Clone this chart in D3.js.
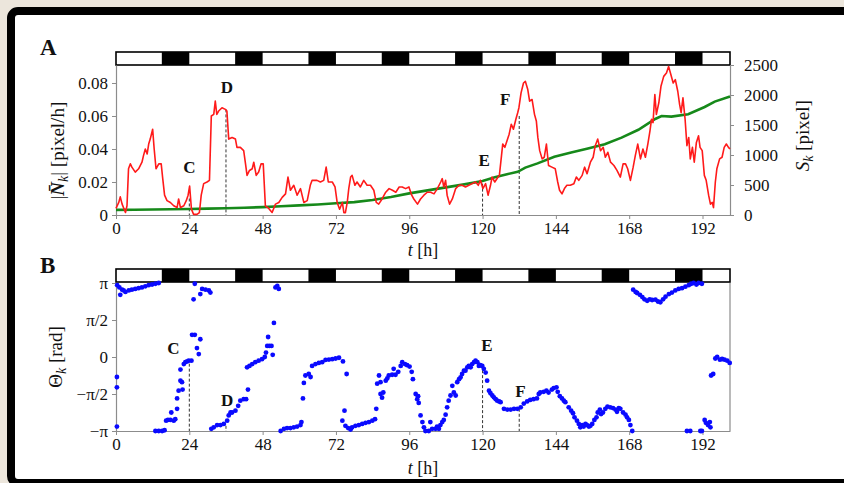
<!DOCTYPE html>
<html lang="en">
<head>
<meta charset="UTF-8">
<title>Speed and direction of growth</title>
<script src="https://d3js.org/d3.v7.min.js"></script>
<style>
  body { margin: 0; background: #ece6dc; }
  svg { display: block; }
  text { font-family: "Liberation Serif", "Times New Roman", serif; fill: #111; }
</style>
</head>
<body>
<svg id="chart" width="844" height="483"></svg>
<script>
// ---- data ----
// |N_k| [pixel/h] over time t [h]
const normRate = [[0,0.004],[0.9,0.0076],[1.4,0.011],[2,0.0066],[3.1,0.0015],[3.6,0.0056],[4.1,0.028],[4.7,0.031],[5.2,0.029],[6.3,0.026],[7.4,0.028],[8.5,0.032],[9,0.036],[9.6,0.040],[10.2,0.037],[10.7,0.043],[11.2,0.046],[12,0.052],[12.5,0.040],[13.1,0.028],[14,0.031],[14.8,0.031],[15.3,0.022],[15.9,0.012],[16.7,0.0087],[17.8,0.0076],[18.9,0.0056],[20,0.0045],[20.5,0.0097],[21.1,0.0045],[22.2,0.0056],[23,0.0087],[23.6,0.012],[24.1,0.0175],[24.7,0.0035],[25.4,0.0004],[26.5,0.0004],[27.3,0.0014],[27.9,0.012],[28.7,0.019],[29.8,0.020],[30.6,0.021],[31.2,0.060],[32,0.061],[32.5,0.069],[33,0.061],[33.6,0.063],[34.7,0.065],[35.8,0.064],[36.3,0.063],[36.9,0.046],[38,0.047],[39.1,0.046],[39.6,0.041],[40.7,0.041],[41.8,0.039],[42.4,0.031],[42.9,0.024],[43.7,0.027],[44.6,0.028],[45.1,0.032],[45.9,0.024],[46.7,0.026],[47.5,0.031],[48.2,0.031],[48.9,0.0056],[50,0.004],[51.1,0.0015],[52.2,0.0066],[53.3,0.0076],[54.4,0.0107],[55.5,0.0128],[56.3,0.023],[57.1,0.015],[58.2,0.018],[59.3,0.012],[60.4,0.016],[61.5,0.0076],[62.6,0.0087],[63.6,0.018],[64.2,0.021],[65.8,0.021],[66.9,0.020],[68,0.021],[68.8,0.029],[69.5,0.020],[70.8,0.020],[71.7,0.017],[72.4,0.0076],[73.2,0.0035],[74.1,0.0076],[74.6,0.0014],[75.1,0.0014],[75.7,0.0076],[76.2,0.016],[76.8,0.023],[77.3,0.024],[78.2,0.018],[78.9,0.020],[80,0.017],[81.1,0.021],[82.2,0.018],[83.3,0.018],[84.4,0.015],[85.2,0.0076],[86,0.0066],[87.1,0.0097],[88.3,0.0138],[89.4,0.016],[90.5,0.015],[91.6,0.0138],[92.7,0.017],[93.7,0.017],[94.8,0.016],[95.9,0.017],[96.8,0.012],[97.5,0.0097],[98.7,0.0066],[99.7,0.0097],[100.8,0.012],[101.9,0.0138],[103,0.0138],[104.1,0.0128],[105.2,0.016],[106.3,0.020],[106.8,0.022],[107.3,0.017],[107.9,0.021],[108.4,0.012],[109.2,0.0066],[110.1,0.0097],[111.2,0.016],[112.3,0.018],[113.3,0.018],[114.4,0.017],[115.5,0.018],[116.6,0.019],[117.7,0.020],[118.6,0.018],[119.3,0.021],[120.1,0.016],[121,0.019],[121.8,0.012],[122.6,0.018],[123.1,0.023],[124,0.020],[124.7,0.022],[125.5,0.024],[126.2,0.036],[126.6,0.043],[127.3,0.041],[128,0.045],[128.7,0.049],[129.4,0.055],[130.1,0.052],[130.9,0.058],[131.5,0.062],[131.9,0.065],[132.6,0.074],[133.4,0.080],[134,0.081],[134.8,0.076],[135.4,0.069],[136.2,0.070],[137,0.061],[137.6,0.057],[138.1,0.047],[138.7,0.039],[139.5,0.034],[140.2,0.035],[140.9,0.043],[141.6,0.030],[142.7,0.029],[143.8,0.028],[144.6,0.020],[145.2,0.015],[146,0.0128],[146.8,0.016],[147.6,0.018],[148.7,0.018],[149.9,0.019],[150.7,0.023],[151.5,0.021],[152.6,0.024],[153.4,0.029],[154.2,0.025],[155.3,0.032],[156.2,0.035],[156.9,0.042],[157.7,0.046],[158.6,0.039],[159.5,0.041],[160.2,0.035],[161,0.038],[161.9,0.032],[163,0.030],[164,0.027],[165.1,0.023],[166,0.031],[166.8,0.031],[167.5,0.028],[168.4,0.021],[169.3,0.029],[170,0.036],[170.8,0.043],[171.7,0.034],[172.5,0.040],[173.3,0.035],[174.1,0.043],[174.8,0.051],[175.3,0.058],[175.8,0.056],[176.4,0.073],[176.9,0.061],[177.7,0.068],[178.4,0.078],[179.3,0.084],[180.2,0.086],[180.9,0.090],[181.5,0.086],[182.4,0.080],[183.1,0.082],[183.9,0.075],[184.5,0.067],[185,0.062],[185.6,0.071],[186.3,0.058],[186.9,0.042],[187.5,0.047],[188,0.034],[188.7,0.041],[189.3,0.032],[190,0.044],[190.7,0.048],[191.2,0.041],[191.9,0.039],[192.6,0.024],[193.2,0.021],[194,0.012],[194.6,0.0066],[195.2,0.0076],[195.6,0.0045],[196.2,0.020],[196.7,0.028],[197.6,0.034],[198.4,0.035],[199.1,0.041],[199.8,0.043],[200.5,0.041],[201,0.040]];

// S_k [pixel]
const areaSk = [[0,85],[6,88],[12,92],[18,96],[24,100],[30,106],[36,112],[42,120],[48,132],[54,145],[60,160],[66,175],[72,195],[78,215],[84,250],[90,300],[96,360],[102,410],[108,460],[114,510],[120,565],[124,630],[128,680],[131.5,720],[134,790],[138,860],[143.5,970],[149,1040],[154.5,1110],[160,1180],[165.5,1290],[171,1420],[176.5,1600],[178.6,1650],[181.8,1640],[187.3,1680],[192.7,1800],[196,1890],[201,1975]];

// Theta_k in units of pi
const thetaPi = [[0.3,-0.27],[0.3,-0.41],[0.3,-0.94],[0.4,0.97],[1.1,0.94],[1.4,0.84],[2.0,0.91],[2.5,0.90],[3.1,0.88],[4.2,0.90],[5.2,0.91],[6.3,0.92],[7.4,0.93],[8.5,0.94],[9.6,0.955],[10.7,0.97],[11.8,0.98],[12.9,0.99],[14.0,1.0],
[12.9,-1.0],[14.0,-1.0],[15.1,-1.0],[15.9,-0.99],
[16.4,-0.86],[17.0,-0.85],[17.8,-0.85],[18.9,-0.86],[19.4,-0.84],[18.1,-0.75],[20.0,-0.70],[20.0,-0.56],[20.5,-0.455],[21.1,-0.32],[21.1,-0.17],[21.6,-0.34],[21.8,-0.44],
[22.2,-0.095],[22.7,-0.07],[23.3,-0.06],[23.8,-0.05],[24.7,-0.05],
[24.9,0.30],[25.8,0.30],[26.5,0.12],[27.1,0.04],[27.6,0.24],[25.4,0.78],[25.8,0.99],
[27.6,0.85],[28.2,0.92],[29.3,0.91],[30.4,0.90],[30.9,0.87],
[31.2,-0.97],[32.0,-0.95],[33.1,-0.92],[34.2,-0.92],[35.3,-0.905],[36.4,-0.86],[36.9,-0.79],[37.5,-0.75],[38.0,-0.75],[39.1,-0.725],[40.0,-0.66],[40.7,-0.59],[41.8,-0.57],[42.6,-0.57],[43.2,-0.44],
[42.9,-0.14],[43.7,-0.12],[44.6,-0.095],[45.6,-0.07],[46.7,-0.05],[47.8,-0.03],[48.7,0],[49.1,0.06],[49.5,0.15],[49.8,0.27],[50.2,0.15],[50.9,0.15],[51.3,0.03],
[51.7,0.46],[52.2,0.94],[52.8,0.96],[53.3,0.92],
[53.9,-1.0],[55.0,-0.97],[56.0,-0.96],[57.1,-0.96],[58.2,-0.95],[59.3,-0.94],[60.4,-0.92],[60.7,-0.88],
[61.2,-0.56],[61.5,-0.35],[62.0,-0.25],[63.1,-0.23],[63.7,-0.27],
[64.2,-0.12],[65.3,-0.095],[66.4,-0.08],[67.5,-0.07],
[68.6,-0.04],[69.7,-0.035],[70.8,-0.03],[71.9,-0.02],[73.0,-0.01],[74.3,-0.06],
[75.5,-0.23],[74.8,-0.725],[74.1,-0.86],
[75.1,-0.93],[76.0,-0.96],[76.8,-0.98],[77.3,-0.95],[78.4,-0.93],[79.5,-0.92],[80.6,-0.905],[81.7,-0.89],[82.8,-0.88],[83.9,-0.86],[84.8,-0.84],[85.2,-0.70],
[85.5,-0.36],[86.1,-0.25],[86.6,-0.50],[87.1,-0.55],[87.5,-0.48],[86.6,-0.34],
[88.3,-0.32],[88.8,-0.29],[89.3,-0.25],[90.4,-0.24],[90.9,-0.16],[91.5,-0.24],[92.4,-0.20],[93.2,-0.12],[93.7,-0.07],[94.6,-0.095],[95.3,-0.11],[96.1,-0.13],[96.8,-0.20],[97.2,-0.30],
[98.1,-0.50],[98.6,-0.57],[98.9,-0.53],[99.1,-0.62],
[99.7,-0.79],[100.3,-0.88],[100.8,-0.95],[101.3,-1.0],[102.4,-1.0],[102.9,-0.88],[103.5,-0.97],[104.6,-0.97],[105.1,-0.94],[105.7,-0.97],[106.2,-0.92],[106.8,-0.88],[107.3,-0.85],[107.9,-0.78],[108.4,-0.68],[108.9,-0.59],[109.5,-0.52],[110.1,-0.39],[110.6,-0.48],[111.2,-0.52],[111.7,-0.34],[112.3,-0.30],[112.8,-0.275],[113.3,-0.23],[113.9,-0.185],[114.4,-0.185],[115.0,-0.14],[115.5,-0.12],[116.1,-0.14],[116.6,-0.095],[117.2,-0.07],[117.7,-0.05],[118.3,-0.07],[118.8,-0.12],[119.3,-0.11],[119.9,-0.12],[120.4,-0.16],[121.0,-0.21],[121.5,-0.32],[122.1,-0.455],[122.6,-0.49],[123.2,-0.52],[123.7,-0.545],[124.3,-0.57],[124.8,-0.59],[125.4,-0.60],[125.9,-0.61],[127.0,-0.70],[128.1,-0.71],[129.2,-0.71],[130.3,-0.70],[131.4,-0.70],[132.5,-0.68],[133.5,-0.63],[134.6,-0.60],
[135.6,-0.58],[136.7,-0.57],[137.8,-0.56],[138.4,-0.50],[138.9,-0.48],[140.0,-0.47],[140.9,-0.455],[141.6,-0.48],[142.7,-0.44],[143.3,-0.42],[144.2,-0.41],[144.6,-0.47],[145.3,-0.53],[146.0,-0.56],[146.6,-0.59],[147.1,-0.61],[148.2,-0.68],[149.0,-0.725],[149.6,-0.76],[150.1,-0.815],[150.9,-0.86],[151.5,-0.905],[152.0,-0.95],[152.6,-0.92],[153.1,-0.94],[153.7,-0.905],[154.2,-0.92],[154.8,-0.94],[155.3,-0.93],[155.9,-0.905],[156.6,-0.85],[157.3,-0.815],[157.7,-0.75],[158.4,-0.71],[158.8,-0.77],[159.4,-0.75],[160.2,-0.70],[160.9,-0.67],[161.8,-0.68],[162.7,-0.69],[163.5,-0.71],[164.0,-0.74],[164.6,-0.69],[165.1,-0.70],[166.0,-0.75],[166.8,-0.78],[167.3,-0.815],[167.9,-0.85],[168.4,-0.92],[169.0,-1.0],
[169.3,0.91],[170.1,0.88],[170.6,0.865],[171.5,0.84],[172.3,0.81],[173.0,0.78],[173.9,0.76],[174.7,0.78],[175.5,0.77],[176.6,0.775],[177.4,0.75],[178.2,0.74],[179.1,0.78],[179.9,0.815],[181.0,0.85],[182.0,0.87],[183.1,0.90],[184.2,0.92],[185.3,0.93],[186.4,0.95],[187.5,0.97],[188.3,0.99],[189.1,1.0],[190.0,0.98],[190.7,1.0],[191.8,0.99],
[186.9,-1.0],[188.0,-1.0],[191.3,-1.0],[191.8,-1.0],
[192.7,-0.85],[193.1,-0.89],[193.8,-0.92],[194.4,-0.88],[194.6,-0.95],
[194.8,-0.25],[195.5,-0.23],
[196.2,-0.02],[196.8,0],[197.7,-0.036],[198.4,-0.027],[199.2,-0.036],[200.1,-0.05],[200.9,-0.08]];

// light/dark bar (dark from .. to .. hours)
const darkOn  = [15, 39, 63, 87, 111, 135, 159, 183];
const darkOff = [24, 48, 72, 96, 120, 144, 168, 192];

const timeTicks = [0, 24, 48, 72, 96, 120, 144, 168, 192];
const rateTicks = [0, 0.02, 0.04, 0.06, 0.08];
const rateTickLabels = ["0", "0.02", "0.04", "0.06", "0.08"];
const skTicks = [0, 500, 1000, 1500, 2000, 2500];
const thetaTicks = [-1, -0.5, 0, 0.5, 1];
const thetaTickLabels = ["\u2212\u03c0", "\u2212\u03c0/2", "0", "\u03c0/2", "\u03c0"];

// marked time points C..F
const markNames = ["C", "D", "E", "F"];
const markTimes = [24, 36, 120, 132];
const markRate = [0.010, 0.064, 0.019, 0.060];
const markTheta = [-0.09, -0.93, -0.11, -0.70];
const markRateLabel = [[24, 0.0285], [36.3, 0.077], [120.5, 0.033], [127.4, 0.0700]];
const markThetaLabel = [[18.8, 0.12], [36.4, -0.59], [121.4, 0.16], [132.4, -0.46]];

// ---- layout ----
const svg = d3.select("#chart");
const W = 844, H = 483;
const spine = "#8c8c8c";

svg.append("rect").attr("width", W).attr("height", H).attr("fill", "#ece6dc");
svg.append("rect")
    .attr("x", 11).attr("y", 11).attr("width", 860).attr("height", 472)
    .attr("rx", 7)
    .attr("fill", "#fff").attr("stroke", "#000").attr("stroke-width", 8);

const x = d3.scaleLinear().domain([0, 201]).range([116, 730]);
const yRate = d3.scaleLinear().domain([0, 0.0909]).range([215, 65]);
const ySk = d3.scaleLinear().domain([0, 2500]).range([215, 65]);
const yTheta = d3.scaleLinear().domain([-1, 1]).range([431, 283]);

function styleAxis(g) {
    g.selectAll("path").attr("stroke", spine).attr("stroke-width", 1.2);
    g.selectAll("line").attr("stroke", spine);
    g.selectAll("text")
        .style("font-family", '"Liberation Serif", "Times New Roman", serif')
        .attr("font-size", 17).attr("fill", "#111");
}

function dayBar(yTop) {
    const bar = svg.append("g");
    bar.append("rect")
        .attr("x", x(0)).attr("y", yTop)
        .attr("width", x(201) - x(0)).attr("height", 13)
        .attr("fill", "#fff").attr("stroke", "#000").attr("stroke-width", 1.6);
    bar.selectAll("rect.dark").data(darkOn).join("rect")
        .attr("class", "dark")
        .attr("x", d => x(d)).attr("y", yTop)
        .attr("width", (d, i) => x(darkOff[i]) - x(d)).attr("height", 13)
        .attr("fill", "#000");
}

function timeAxis(yPos, labelY) {
    const g = svg.append("g")
        .attr("transform", `translate(0,${yPos})`)
        .call(d3.axisBottom(x).tickValues(timeTicks).tickSize(4).tickSizeOuter(0).tickPadding(3));
    styleAxis(g);
    const lab = svg.append("text")
        .attr("x", x(100.5)).attr("y", labelY)
        .attr("text-anchor", "middle").attr("font-size", 18);
    lab.append("tspan").attr("font-style", "italic").text("t");
    lab.append("tspan").text(" [h]");
}

// ---- panel A ----
dayBar(52);

const gRate = svg.append("g")
    .attr("transform", `translate(${x(0)},0)`)
    .call(d3.axisLeft(yRate).tickValues(rateTicks)
        .tickFormat((d, i) => rateTickLabels[i]).tickSize(4).tickSizeOuter(0).tickPadding(4));
styleAxis(gRate);

const gSk = svg.append("g")
    .attr("transform", `translate(${x(201)},0)`)
    .call(d3.axisRight(ySk).tickValues(skTicks).tickFormat(d3.format("d"))
        .tickSize(4).tickSizeOuter(0).tickPadding(10));
styleAxis(gSk);

timeAxis(215, 256);

// dashed markers A
markTimes.forEach((t, i) => {
    svg.append("line")
        .attr("x1", x(t)).attr("x2", x(t))
        .attr("y1", yRate(markRate[i])).attr("y2", yRate(0))
        .attr("stroke", "#333").attr("stroke-width", 1).attr("stroke-dasharray", "3,2");
});

svg.append("path").datum(areaSk)
    .attr("fill", "none").attr("stroke", "#16891a").attr("stroke-width", 2.6)
    .attr("d", d3.line().x(d => x(d[0])).y(d => ySk(d[1])));

svg.append("path").datum(normRate)
    .attr("fill", "none").attr("stroke", "#ff1a1a").attr("stroke-width", 1.6)
    .attr("stroke-linejoin", "round")
    .attr("d", d3.line().x(d => x(d[0])).y(d => yRate(d[1])));

markRateLabel.forEach((p, i) => {
    svg.append("text")
        .attr("x", x(p[0])).attr("y", yRate(p[1]))
        .attr("text-anchor", "middle").attr("dominant-baseline", "central")
        .attr("font-size", 17).attr("font-weight", "bold").text(markNames[i]);
});

// left label |N_k| [pixel/h]
const lblN = svg.append("text")
    .attr("transform", `translate(64,${yRate(0.039)}) rotate(-90)`)
    .attr("text-anchor", "middle").attr("font-size", 19);
lblN.append("tspan").text("|");
lblN.append("tspan").attr("font-weight", "bold").attr("font-style", "italic").text("N\u0304");
lblN.append("tspan").attr("font-style", "italic").attr("font-size", 14).attr("dy", 4).text("k");
lblN.append("tspan").attr("dy", -4).text("| [pixel/h]");

const lblS = svg.append("text")
    .attr("transform", `translate(809,${ySk(1320)}) rotate(-90)`)
    .attr("text-anchor", "middle").attr("font-size", 19);
lblS.append("tspan").attr("font-style", "italic").text("S");
lblS.append("tspan").attr("font-style", "italic").attr("font-size", 14).attr("dy", 4).text("k");
lblS.append("tspan").attr("dy", -4).text("  [pixel]");

svg.append("text").attr("x", 40).attr("y", 55)
    .attr("font-size", 23).attr("font-weight", "bold").text("A");

// ---- panel B ----
dayBar(269);

const gTheta = svg.append("g")
    .attr("transform", `translate(${x(0)},0)`)
    .call(d3.axisLeft(yTheta).tickValues(thetaTicks)
        .tickFormat((d, i) => thetaTickLabels[i]).tickSize(4).tickSizeOuter(0).tickPadding(4));
styleAxis(gTheta);

svg.append("line")
    .attr("x1", x(201)).attr("x2", x(201))
    .attr("y1", yTheta(1)).attr("y2", yTheta(-1))
    .attr("stroke", spine).attr("stroke-width", 1.2);

timeAxis(yTheta(-1), 474);

markTimes.forEach((t, i) => {
    svg.append("line")
        .attr("x1", x(t)).attr("x2", x(t))
        .attr("y1", yTheta(markTheta[i])).attr("y2", yTheta(-1))
        .attr("stroke", "#333").attr("stroke-width", 1).attr("stroke-dasharray", "3,2");
});

svg.append("g").selectAll("circle").data(thetaPi).join("circle")
    .attr("cx", d => x(d[0])).attr("cy", d => yTheta(d[1]))
    .attr("r", 2.4).attr("fill", "#0a0aff");

markThetaLabel.forEach((p, i) => {
    svg.append("text")
        .attr("x", x(p[0])).attr("y", yTheta(p[1]))
        .attr("text-anchor", "middle").attr("dominant-baseline", "central")
        .attr("font-size", 17).attr("font-weight", "bold").text(markNames[i]);
});

const lblT = svg.append("text")
    .attr("transform", `translate(62,${yTheta(0)}) rotate(-90)`)
    .attr("text-anchor", "middle").attr("font-size", 19);
lblT.append("tspan").text("\u0398");
lblT.append("tspan").attr("font-style", "italic").attr("font-size", 14).attr("dy", 4).text("k");
lblT.append("tspan").attr("dy", -4).text(" [rad]");

svg.append("text").attr("x", 40).attr("y", 273)
    .attr("font-size", 23).attr("font-weight", "bold").text("B");
</script>
</body>
</html>
